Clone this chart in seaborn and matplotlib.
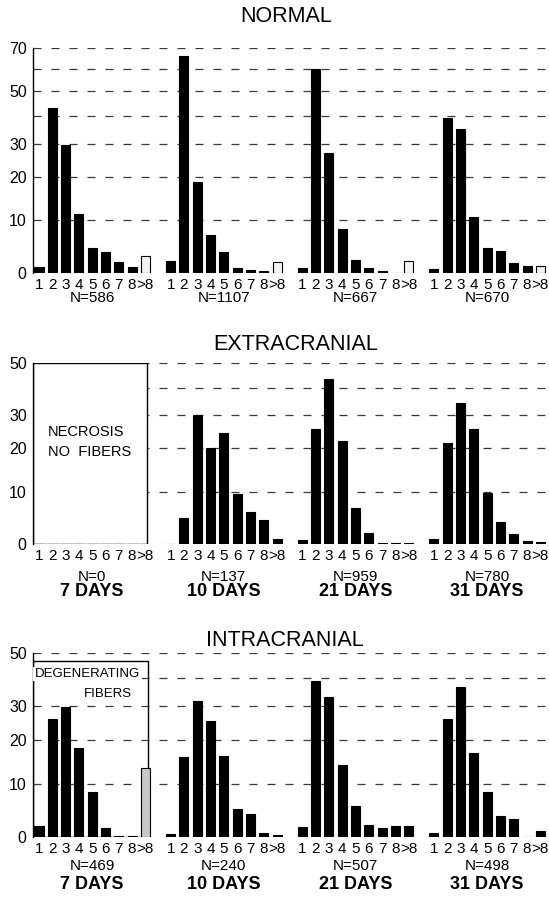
import numpy as np
import pandas as pd
import seaborn as sns
import matplotlib.pyplot as plt
from matplotlib.patches import Rectangle

# fiber size classes and group labels
BINS = ["1", "2", "3", "4", "5", "6", "7", "8", ">8"]
DAYS = ["7 DAYS", "10 DAYS", "21 DAYS", "31 DAYS"]

# percent of fibers per class, one list per group
NORMAL_N = [586, 1107, 667, 670]
NORMAL_PCT = [
    [1.2, 43.1, 29.5, 11.2, 4.8, 4.0, 2.0, 1.2, 3.3],
    [2.3, 66.0, 18.6, 7.2, 4.0, 1.0, 0.6, 0.3, 2.0],
    [0.9, 59.8, 26.9, 8.4, 2.5, 0.9, 0.3, 0.0, 2.3],
    [0.8, 39.1, 34.9, 10.6, 4.8, 4.1, 1.9, 1.4, 1.4],
]

EXTRA_N = [0, 137, 959, 780]
EXTRA_PCT = [
    [0, 0, 0, 0, 0, 0, 0, 0, 0],
    [0, 4.9, 30.0, 20.0, 24.5, 9.5, 6.1, 4.6, 1.0],
    [0.7, 25.5, 43.5, 22.0, 6.9, 2.1, 0.1, 0.1, 0.1],
    [1.0, 21.5, 34.4, 25.6, 9.8, 4.2, 1.9, 0.5, 0.4],
]

INTRA_N = [469, 240, 507, 498]
INTRA_PCT = [
    [2.0, 26.0, 29.8, 17.8, 8.5, 1.7, 0.2, 0.1, 13.1],
    [0.5, 15.6, 31.8, 25.4, 16.0, 5.2, 4.3, 0.8, 0.4],
    [1.9, 38.9, 33.2, 13.9, 5.9, 2.2, 1.7, 2.1, 2.1],
    [0.8, 26.1, 36.6, 16.6, 8.5, 3.9, 3.3, 0.0, 1.1],
]

GROUP_STEP = 9.9
SQ10 = np.sqrt(10)
KNEE = 1.594  # axis is linear up to 10 %, square root above


def fwd(v):
    v = np.asarray(v, dtype=float)
    return np.where(v <= 10, v * KNEE / 10, KNEE + np.sqrt(np.maximum(v, 10)) - SQ10)


def inv(u):
    u = np.asarray(u, dtype=float)
    return np.where(u <= KNEE, u * 10 / KNEE, (np.maximum(u, KNEE) - KNEE + SQ10) ** 2)


def panel(fig, rect, pct, ns, top, ticks, tick_labels, special, n_y, days_y=None):
    ax = fig.add_axes(rect)
    rows = []
    for g, vals in enumerate(pct):
        for i, v in enumerate(vals):
            fill = special.get((g, i), "solid")
            rows.append({"pos": g * GROUP_STEP + i, "pct": v, "fill": fill})
    df = pd.DataFrame(rows)

    sns.barplot(data=df, x="pos", y="pct", hue="fill", native_scale=True, orient="x",
                palette={"solid": "black", "light": "#f2f2f2", "stipple": "#c8c8c8"},
                dodge=False, width=0.68, errorbar=None, saturation=1, legend=False,
                edgecolor="black", linewidth=0.8, zorder=3, ax=ax)

    ax.set_yscale("function", functions=(fwd, inv))
    ax.set_ylim(0, top)
    ax.set_xlim(-0.45, 38.35)

    for t in ticks[1:]:
        ax.axhline(t, color="#3a3a3a", lw=0.9, ls=(0, (6.4, 8)), zorder=1)

    ax.set_yticks(ticks, tick_labels)
    ax.set_xticks(df["pos"], BINS * len(pct))
    ax.tick_params(axis="y", direction="out", length=3, width=0.9, labelsize=11.5, pad=1.5,
                   color="black", labelcolor="black")
    ax.tick_params(axis="x", length=0, labelsize=11, pad=3.5, labelcolor="black")
    ax.minorticks_off()
    ax.set_xlabel("")
    ax.set_ylabel("")
    for s in ["top", "right", "bottom"]:
        ax.spines[s].set_visible(False)
    ax.spines["left"].set_linewidth(1.0)
    ax.spines["left"].set_color("black")

    tr = ax.get_xaxis_transform()
    for g, n in enumerate(ns):
        cx = g * GROUP_STEP + 4
        ax.text(cx, n_y, f"N={n}", transform=tr, ha="center", va="center", fontsize=11)
        if days_y is not None:
            ax.text(cx, days_y, DAYS[g], transform=tr, ha="center", va="center",
                    fontsize=13, fontweight="bold")
    return ax


sns.set_theme(style="white")
plt.rcParams["font.family"] = ["Liberation Sans", "DejaVu Sans"]
plt.rcParams["text.color"] = "black"

W, H = 549, 901
fig = plt.figure(figsize=(W / 100, H / 100), dpi=100)


def rect(top_px, bottom_px):
    return [33 / W, 1 - bottom_px / H, 516 / W, (bottom_px - top_px) / H]


# NORMAL
t1 = [0, 10, 20, 30, 40, 50, 60, 70]
l1 = ["0", "10", "20", "30", "", "50", "", "70"]
normal_special = {(g, 8): "light" for g in range(4)}
panel(fig, rect(48, 273), NORMAL_PCT, NORMAL_N, 70, t1, l1, normal_special, -0.111)

# EXTRACRANIAL
t2 = [0, 10, 20, 30, 40, 50]
l2 = ["0", "10", "20", "30", "", "50"]
ax2 = panel(fig, rect(363, 544), EXTRA_PCT, EXTRA_N, 50, t2, l2, {}, -0.18, -0.265)
ax2.add_patch(Rectangle((-0.45, 0), 8.57, 50, facecolor="white", edgecolor="black",
                        lw=1.0, zorder=2))
ax2.text(0.68, 0.62, "NECROSIS", transform=ax2.get_xaxis_transform(), ha="left",
         va="center", fontsize=10.5, zorder=4)
ax2.text(0.68, 0.51, "NO  FIBERS", transform=ax2.get_xaxis_transform(), ha="left",
         va="center", fontsize=10.5, zorder=4)

# INTRACRANIAL
ax3 = panel(fig, rect(653, 837), INTRA_PCT, INTRA_N, 50, t2, l2, {(0, 8): "stipple"},
            -0.158, -0.26)
ax3.add_patch(Rectangle((-0.45, 0), 8.65, 46.5, facecolor="none", edgecolor="black",
                        lw=1.0, zorder=2))
box = dict(facecolor="white", edgecolor="none", pad=1.0)
ax3.text(3.65, 0.886, "DEGENERATING", transform=ax3.get_xaxis_transform(), ha="center",
         va="center", fontsize=9.5, zorder=4, bbox=box)
ax3.text(7.0, 0.777, "FIBERS", transform=ax3.get_xaxis_transform(), ha="right",
         va="center", fontsize=9.5, zorder=4, bbox=box)

for label, x, y in [("NORMAL", 286, 16), ("EXTRACRANIAL", 296, 345), ("INTRACRANIAL", 285, 641)]:
    fig.text(x / W, 1 - y / H, label, ha="center", va="center", fontsize=15.5)

fig.savefig("out.png", dpi=100)
plt.close(fig)
